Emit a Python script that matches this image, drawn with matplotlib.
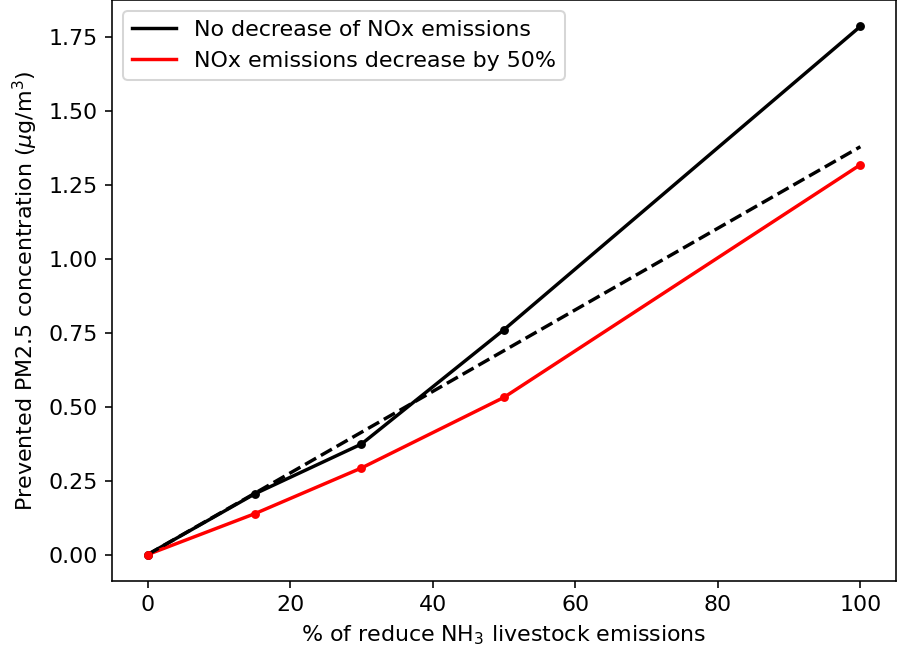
import matplotlib
matplotlib.use("Agg")
import matplotlib.pyplot as plt

reduction = [0, 15, 30, 50, 100]
no_nox_decrease = [0.0, 0.205, 0.374, 0.761, 1.787]
nox_decrease_50 = [0.0, 0.138, 0.293, 0.532, 1.319]
linear_trend = [0.0, 0.207, 0.414, 0.690, 1.380]

plt.rcParams["font.size"] = 11

fig = plt.figure(figsize=(898 / 145, 656 / 145), dpi=145)
ax = fig.add_axes([112 / 898, 1 - 581 / 656, 784 / 898, 581 / 656])

# lines carry the legend labels, dots are drawn on top without labels
ax.plot(reduction, no_nox_decrease, color="black", lw=1.7,
        label="No decrease of NOx emissions")
ax.plot(reduction, nox_decrease_50, color="red", lw=1.7,
        label="NOx emissions decrease by 50%")
ax.plot(reduction, linear_trend, color="black", lw=1.7, linestyle="--")
ax.plot(reduction, no_nox_decrease, "o", color="black", markersize=3.4)
ax.plot(reduction, nox_decrease_50, "o", color="red", markersize=3.4)

ax.set_xlabel(r"% of reduce NH$_3$ livestock emissions")
ax.set_ylabel(r"Prevented PM2.5 concentration ($\mu$g/m$^3$)")
ax.legend(loc="upper left")

fig.savefig("out.png", dpi=145)
